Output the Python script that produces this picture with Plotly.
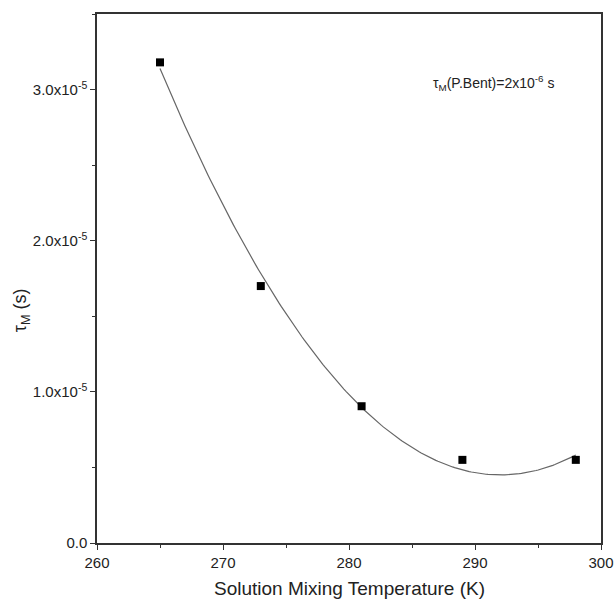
import numpy as np
import plotly.graph_objects as go

# Measured relaxation time vs. mixing temperature
temperature_K = [265, 273, 281, 289, 298]
tau_m_s = [3.18e-5, 1.70e-5, 0.905e-5, 0.55e-5, 0.55e-5]

y_tick_vals = [0.0, 1.0e-5, 2.0e-5, 3.0e-5]
y_tick_text = ["0.0", "1.0x10<sup>-5</sup>", "2.0x10<sup>-5</sup>", "3.0x10<sup>-5</sup>"]
x_tick_vals = [260, 270, 280, 290, 300]

# Smooth polynomial trend through the measurements
coef = np.polyfit(temperature_K, tau_m_s, 2)
fit_x = np.linspace(min(temperature_K), max(temperature_K), 200)
fit_y = np.polyval(coef, fit_x)

font = "Liberation Sans, Arial, sans-serif"

fig = go.Figure()
fig.add_trace(go.Scatter(x=fit_x, y=fit_y, mode="lines",
                         line=dict(color="#666666", width=1.2), hoverinfo="skip"))
fig.add_trace(go.Scatter(x=temperature_K, y=tau_m_s, mode="markers",
                         marker=dict(symbol="square", size=8, color="black")))

axis_common = dict(showgrid=False, zeroline=False, showline=True, linecolor="#333",
                   linewidth=1.5, mirror=True, ticks="outside", ticklen=5,
                   tickwidth=1.2, tickcolor="#333", automargin=False,
                   tickfont=dict(family=font, size=15, color="#222"),
                   minor=dict(ticks="outside", ticklen=3, tickcolor="#333", tickwidth=1.2))

fig.update_xaxes(range=[260, 300], tickvals=x_tick_vals, minor_dtick=5, **axis_common)
fig.update_yaxes(range=[0, 3.5e-5], tickvals=y_tick_vals, ticktext=y_tick_text,
                 minor_dtick=0.5e-5, **axis_common)

# Axis labels
fig.add_annotation(x=0.5, y=0, xref="paper", yref="paper", yshift=-45,
                   xanchor="center", yanchor="middle", showarrow=False,
                   text="Solution Mixing Temperature (K)",
                   font=dict(family=font, size=19, color="#222"))
fig.add_annotation(x=0, y=0.44, xref="paper", yref="paper", xshift=-76,
                   xanchor="center", yanchor="middle", showarrow=False, textangle=-90,
                   text="τ<sub>M</sub> (s)",
                   font=dict(family=font, size=18, color="#222"))

fig.add_annotation(x=0.663, y=0.87, xref="paper", yref="paper", xanchor="left",
                   yanchor="middle", showarrow=False,
                   text="τ<sub>M</sub>(P.Bent)=2x10<sup>-6</sup> s",
                   font=dict(family=font, size=14, color="#222"))

fig.update_layout(width=614, height=602, showlegend=False,
                  margin=dict(l=97, r=13, t=14, b=59),
                  plot_bgcolor="white", paper_bgcolor="white")

fig.write_html("out.html")
